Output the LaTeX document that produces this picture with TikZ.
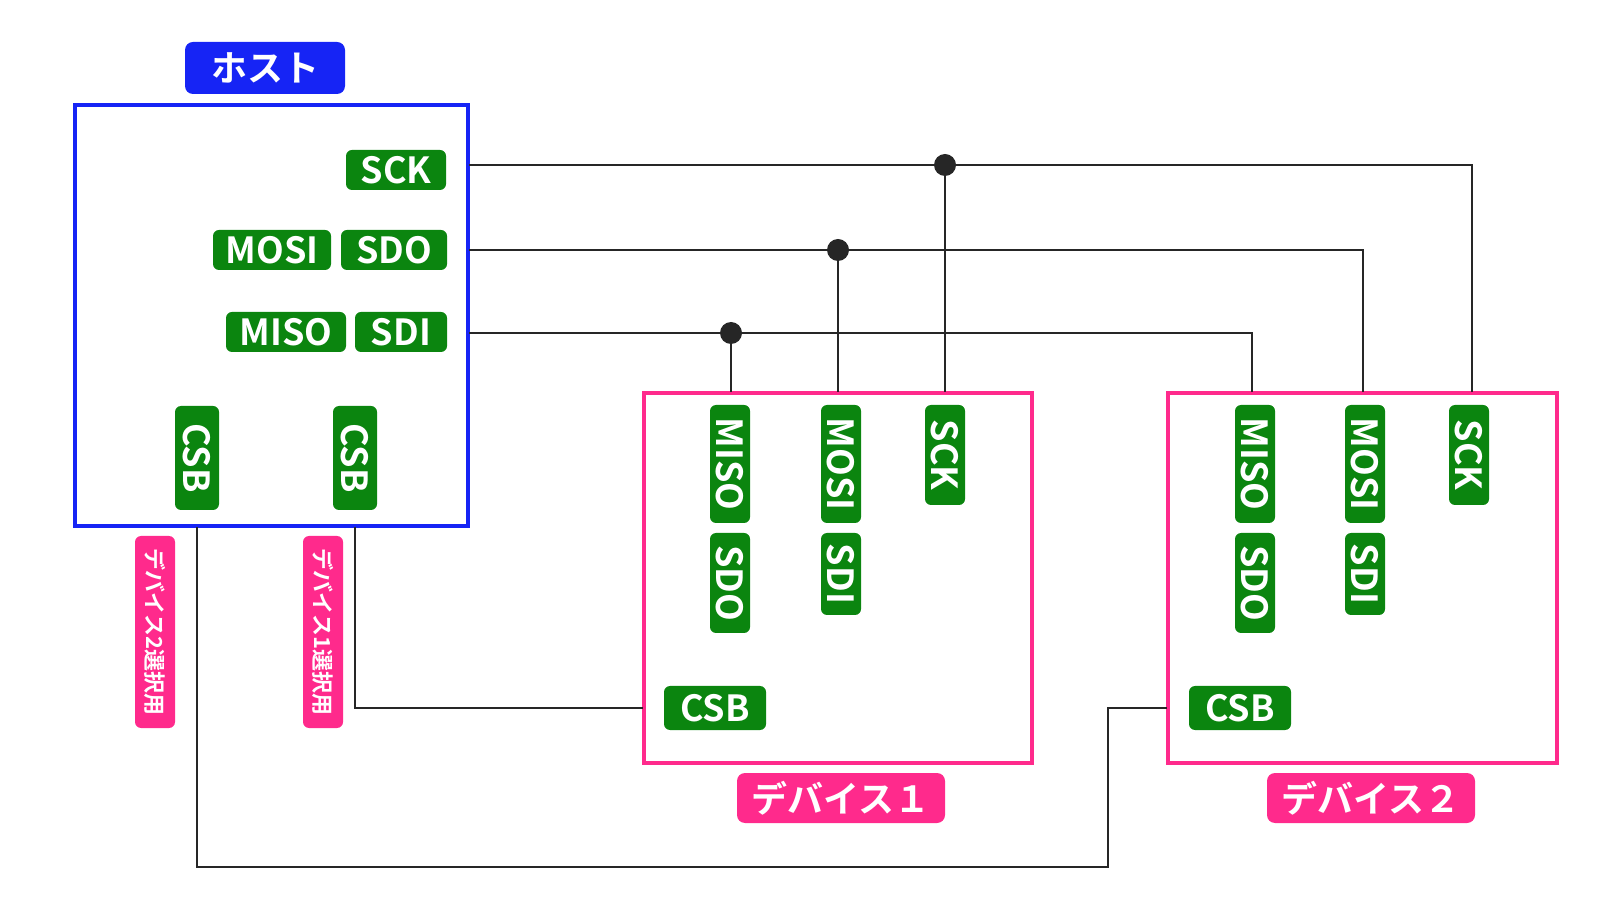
\documentclass[tikz,border=0pt]{standalone}
\usepackage{fontspec}
\setmainfont{Noto Sans CJK JP}[BoldFont={* Bold}]
\definecolor{gr}{HTML}{0B850F}
\definecolor{pk}{HTML}{FF2A8C}
\definecolor{bl}{HTML}{1624F5}
\begin{document}
\begin{tikzpicture}[x=0.5pt,y=-0.5pt,
 lab/.style={fill=gr,text=white,rounded corners=3pt,font=\bfseries\fontsize{18}{18}\selectfont,inner sep=0pt,minimum height=20pt},
 vlab/.style={lab,rotate=-90},
 pl/.style={fill=pk,text=white,rounded corners=3pt,font=\bfseries\fontsize{11}{11}\selectfont,inner sep=0pt,minimum height=20pt,rotate=-90},
 wire/.style={line width=1.2pt,draw=black!85},
 dot/.style={circle,fill=black!85,inner sep=0pt,minimum size=11pt}]
\useasboundingbox (0,0) rectangle (1624,914);
% host
\node[fill=bl,text=white,rounded corners=4pt,font=\bfseries\fontsize{18}{18}\selectfont,minimum width=80pt,minimum height=26pt,inner sep=0pt] (hl) at (265,68) {ホスト};
\draw[bl,line width=2pt] (75,105) rectangle (468,526);
\node[lab,minimum width=50pt] (hsck) at (396,170) {SCK};
\node[lab,minimum width=59pt] (hmosi) at (272,250) {MOSI};
\node[lab,minimum width=53pt] (hsdo) at (394,250) {SDO};
\node[lab,minimum width=60pt] (hmiso) at (286,332) {MISO};
\node[lab,minimum width=46pt] (hsdi) at (401,332) {SDI};
\node[vlab,minimum width=52pt,minimum height=22pt] (hcsb2) at (197,458) {CSB};
\node[vlab,minimum width=52pt,minimum height=22pt] (hcsb1) at (355,458) {CSB};
\node[pl,minimum width=96pt] (p2) at (155,632) {デバイス2選択用};
\node[pl,minimum width=96pt] (p1) at (323,632) {デバイス1選択用};
% device 1
\draw[pk,line width=2pt] (644,393) rectangle (1032,763);
\node[vlab,minimum width=59pt,minimum height=20pt] (d1miso) at (730,464) {MISO};
\node[vlab,minimum width=50pt,minimum height=20pt] (d1sdo) at (730,583) {SDO};
\node[vlab,minimum width=59pt,minimum height=20pt] (d1mosi) at (841,464) {MOSI};
\node[vlab,minimum width=41pt,minimum height=20pt] (d1sdi) at (841,574) {SDI};
\node[vlab,minimum width=50pt,minimum height=20pt] (d1sck) at (945,455) {SCK};
\node[lab,minimum width=51pt,minimum height=22pt] (d1csb) at (715,708) {CSB};
\node[fill=pk,text=white,rounded corners=4pt,font=\bfseries\fontsize{18}{18}\selectfont,minimum width=104pt,minimum height=25pt,inner sep=0pt] (d1l) at (841,798) {デバイス１};
% device 2
\draw[pk,line width=2pt] (1168,393) rectangle (1557,763);
\node[vlab,minimum width=59pt,minimum height=20pt] (d2miso) at (1255,464) {MISO};
\node[vlab,minimum width=50pt,minimum height=20pt] (d2sdo) at (1255,583) {SDO};
\node[vlab,minimum width=59pt,minimum height=20pt] (d2mosi) at (1365,464) {MOSI};
\node[vlab,minimum width=41pt,minimum height=20pt] (d2sdi) at (1365,574) {SDI};
\node[vlab,minimum width=50pt,minimum height=20pt] (d2sck) at (1469,455) {SCK};
\node[lab,minimum width=51pt,minimum height=22pt] (d2csb) at (1240,708) {CSB};
\node[fill=pk,text=white,rounded corners=4pt,font=\bfseries\fontsize{18}{18}\selectfont,minimum width=104pt,minimum height=25pt,inner sep=0pt] (d2l) at (1371,798) {デバイス２};
% wires
\coordinate (hs) at (469,165); \coordinate (hm) at (469,250); \coordinate (hi) at (469,333);
\node[dot] (j1) at (945,165) {};
\node[dot] (j2) at (838,250) {};
\node[dot] (j3) at (731,333) {};
\coordinate (t1s) at (945,392); \coordinate (t1m) at (838,392); \coordinate (t1i) at (731,392);
\coordinate (t2s) at (1472,392); \coordinate (t2m) at (1363,392); \coordinate (t2i) at (1252,392);
\draw[wire] (hs) -- (j1) -- (1472,165) -- (t2s);
\draw[wire] (hm) -- (j2) -- (1363,250) -- (t2m);
\draw[wire] (hi) -- (j3) -- (1252,333) -- (t2i);
\draw[wire] (j1) -- (t1s); \draw[wire] (j2) -- (t1m); \draw[wire] (j3) -- (t1i);
\coordinate (b1) at (355,527); \coordinate (e1) at (643,708);
\coordinate (b2) at (197,527); \coordinate (e2) at (1167,708);
\draw[wire] (b1) |- (e1);
\draw[wire] (b2) -- (197,867) -- (1108,867) -- (1108,708) -- (e2);
\end{tikzpicture}
\end{document}
